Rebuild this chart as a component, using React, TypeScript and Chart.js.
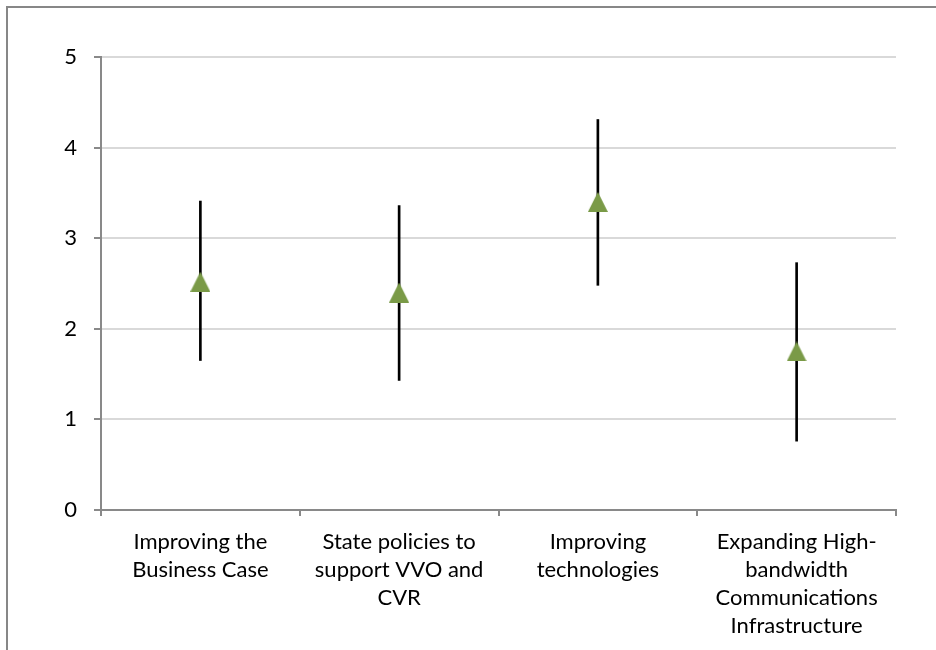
import React, { useEffect, useRef } from "react";
import Chart from "chart.js/auto";

const categories: string[][] = [
  ["Improving the", "Business Case"],
  ["State policies to", "support VVO and", "CVR"],
  ["Improving", "technologies"],
  ["Expanding High-", "bandwidth", "Communications", "Infrastructure"],
];
const meanValues = [2.52, 2.4, 3.4, 1.75];
const lowValues = [1.65, 1.43, 2.48, 0.76];
const highValues = [3.41, 3.36, 4.31, 2.73];
const yTickValues = [0, 1, 2, 3, 4, 5];

const AXIS_GRAY = "#898989";
const GRID_GRAY = "#d9d9d9";
const MARKER_GREEN = "#7a9a47";
const FONT_FAMILY = "Lato, 'Liberation Sans', sans-serif";

function makeTriangle(): HTMLCanvasElement {
  const c = document.createElement("canvas");
  c.width = 20;
  c.height = 20;
  const ctx = c.getContext("2d")!;
  ctx.fillStyle = MARKER_GREEN;
  ctx.beginPath();
  ctx.moveTo(10, 0);
  ctx.lineTo(20, 20);
  ctx.lineTo(0, 20);
  ctx.closePath();
  ctx.fill();
  return c;
}

export default function App() {
  const ref = useRef<HTMLCanvasElement | null>(null);

  useEffect(() => {
    if (!ref.current) return;
    const tri = makeTriangle();
    const errorData = lowValues.map((lo, i) => [lo, highValues[i]]);
    const chart = new Chart(ref.current, {
      type: "bar",
      data: {
        labels: categories,
        datasets: [
          {
            type: "line",
            label: "Mean",
            data: meanValues,
            showLine: false,
            pointStyle: tri as any,
            pointRadius: 10,
            order: 0,
          } as any,
          {
            type: "bar",
            label: "Range",
            data: errorData as any,
            backgroundColor: "#000000",
            borderWidth: 0,
            barThickness: 2,
            order: 1,
          },
        ],
      },
      options: {
        responsive: false,
        animation: false,
        devicePixelRatio: 1,
        layout: { padding: { left: 0, top: 57, right: 40, bottom: 0 } },
        plugins: {
          legend: { display: false },
          tooltip: { enabled: false },
        },
        scales: {
          x: {
            type: "category",
            offset: true,
            afterFit: (s: any) => {
              s.height = 140;
            },
            grid: {
              offset: true,
              drawOnChartArea: false,
              drawTicks: true,
              tickLength: 6,
              tickColor: AXIS_GRAY,
              tickWidth: 2,
              lineWidth: 2,
              color: AXIS_GRAY,
            },
            border: { display: true, color: AXIS_GRAY, width: 2 },
            ticks: {
              color: "#000000",
              maxRotation: 0,
              minRotation: 0,
              autoSkip: false,
              padding: 12,
              font: { family: FONT_FAMILY, size: 22, lineHeight: 28 / 22 },
            },
          },
          y: {
            min: 0,
            max: 5,
            afterFit: (s: any) => {
              s.width = 101;
            },
            afterBuildTicks: (s: any) => {
              s.ticks = yTickValues.map((v) => ({ value: v }));
            },
            grid: {
              color: GRID_GRAY,
              lineWidth: 2,
              drawTicks: true,
              tickLength: 7,
              tickColor: AXIS_GRAY,
              tickWidth: 2,
            },
            border: { display: true, color: AXIS_GRAY, width: 2 },
            ticks: {
              color: "#000000",
              padding: 17,
              font: { family: FONT_FAMILY, size: 22 },
            },
          },
        },
      },
    });
    return () => chart.destroy();
  }, []);

  return (
    <div style={{ position: "fixed", left: 0, top: 0, width: 936, height: 650, overflow: "hidden", background: "#ffffff" }}>
      <div
        style={{
          position: "absolute",
          left: 6,
          top: 6,
          right: -10,
          bottom: -10,
          borderLeft: "2px solid #878787",
          borderTop: "2px solid #878787",
        }}
      />
      <canvas ref={ref} width={936} height={650} style={{ position: "absolute", left: 0, top: 0, width: 936, height: 650 }} />
    </div>
  );
}
